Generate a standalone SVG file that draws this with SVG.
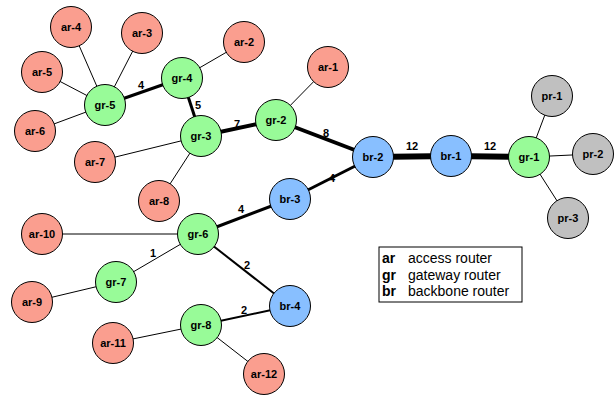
<svg xmlns="http://www.w3.org/2000/svg" width="616" height="398" viewBox="0 0 616 398">
  <style>
    .node circle { stroke: #000; stroke-width: 1; }
    .ar circle { fill: #fa9e8f; }
    .gr circle { fill: #98fb98; }
    .br circle { fill: #88bfff; }
    .pr circle { fill: #c0c0c0; }
    .node text { font-family: "Liberation Sans", Arial, sans-serif; font-size: 11px; font-weight: bold; text-anchor: middle; dominant-baseline: central; fill: #000; }
    .edge { stroke: #000; fill: none; }
    .w1 { stroke-width: 1; }
    .w2 { stroke-width: 2; }
    .w3 { stroke-width: 3; }
    .w4 { stroke-width: 4; }
    .w6 { stroke-width: 6; }
    .wl { font-family: "Liberation Sans", Arial, sans-serif; font-size: 11px; font-weight: bold; text-anchor: middle; fill: #000; }
    .legend { font-family: "Liberation Sans", Arial, sans-serif; font-size: 14px; fill: #000; }
    .legend .k { font-weight: bold; }
  </style>

  <!-- links -->
  <g id="connectors">
    <line class="edge w1" x1="105" y1="105" x2="71" y2="27"/>
    <line class="edge w1" x1="105" y1="105" x2="142" y2="33"/>
    <line class="edge w1" x1="105" y1="105" x2="42" y2="72"/>
    <line class="edge w1" x1="105" y1="105" x2="35" y2="131"/>
    <line class="edge w3" x1="105" y1="105" x2="182" y2="78"/>
    <line class="edge w1" x1="182" y1="78" x2="244" y2="42"/>
    <line class="edge w3" x1="182" y1="78" x2="201" y2="136"/>
    <line class="edge w1" x1="201" y1="136" x2="95" y2="162"/>
    <line class="edge w1" x1="201" y1="136" x2="159" y2="201"/>
    <line class="edge w4" x1="201" y1="136" x2="276" y2="120"/>
    <line class="edge w1" x1="276" y1="120" x2="328" y2="67"/>
    <line class="edge w4" x1="276" y1="120" x2="373" y2="157"/>
    <line class="edge w6" x1="373" y1="157" x2="451" y2="156"/>
    <line class="edge w6" x1="451" y1="156" x2="529" y2="157"/>
    <line class="edge w1" x1="529" y1="157" x2="552" y2="96"/>
    <line class="edge w1" x1="529" y1="157" x2="593" y2="154"/>
    <line class="edge w1" x1="529" y1="157" x2="568" y2="218"/>
    <line class="edge w3" x1="373" y1="157" x2="290" y2="199"/>
    <line class="edge w3" x1="290" y1="199" x2="198" y2="234"/>
    <line class="edge w1" x1="198" y1="234" x2="42" y2="234" stroke="#333"/>
    <line class="edge w1" x1="198" y1="234" x2="116" y2="282"/>
    <line class="edge w1" x1="116" y1="282" x2="32" y2="302"/>
    <line class="edge w2" x1="198" y1="234" x2="290" y2="306"/>
    <line class="edge w2" x1="290" y1="306" x2="201" y2="325"/>
    <line class="edge w1" x1="201" y1="325" x2="113" y2="343"/>
    <line class="edge w1" x1="201" y1="325" x2="264" y2="374"/>

    <!-- link weights -->
    <text class="wl" x="141" y="89">4</text>
    <text class="wl" x="198" y="109" font-weight="normal">5</text>
    <text class="wl" x="237" y="128">7</text>
    <text class="wl" x="326" y="137">8</text>
    <text class="wl" x="412" y="150">12</text>
    <text class="wl" x="490" y="150">12</text>
    <text class="wl" x="332" y="182">4</text>
    <text class="wl" x="241" y="213">4</text>
    <text class="wl" x="153" y="257">1</text>
    <text class="wl" x="247" y="269">2</text>
    <text class="wl" x="244" y="314">2</text>
  </g>

  <!-- access routers -->
  <g id="ar-1" class="node ar"><circle cx="328" cy="67" r="20.5"/><text x="328" y="67">ar-1</text></g>
  <g id="ar-2" class="node ar"><circle cx="244" cy="42" r="20.5"/><text x="244" y="42">ar-2</text></g>
  <g id="ar-3" class="node ar"><circle cx="142" cy="33" r="20.5"/><text x="142" y="33">ar-3</text></g>
  <g id="ar-4" class="node ar"><circle cx="71" cy="27" r="20.5"/><text x="71" y="27">ar-4</text></g>
  <g id="ar-5" class="node ar"><circle cx="42" cy="72" r="20.5"/><text x="42" y="72">ar-5</text></g>
  <g id="ar-6" class="node ar"><circle cx="35" cy="131" r="20.5"/><text x="35" y="131">ar-6</text></g>
  <g id="ar-7" class="node ar"><circle cx="95" cy="162" r="20.5"/><text x="95" y="162">ar-7</text></g>
  <g id="ar-8" class="node ar"><circle cx="159" cy="201" r="20.5"/><text x="159" y="201">ar-8</text></g>
  <g id="ar-9" class="node ar"><circle cx="32" cy="302" r="20.5"/><text x="32" y="302">ar-9</text></g>
  <g id="ar-10" class="node ar"><circle cx="42" cy="234" r="20.5"/><text x="42" y="234">ar-10</text></g>
  <g id="ar-11" class="node ar"><circle cx="113" cy="343" r="20.5"/><text x="113" y="343">ar-11</text></g>
  <g id="ar-12" class="node ar"><circle cx="264" cy="374" r="20.5"/><text x="264" y="374">ar-12</text></g>

  <!-- gateway routers -->
  <g id="gr-1" class="node gr"><circle cx="529" cy="157" r="20.5"/><text x="529" y="157">gr-1</text></g>
  <g id="gr-2" class="node gr"><circle cx="276" cy="120" r="20.5"/><text x="276" y="120">gr-2</text></g>
  <g id="gr-3" class="node gr"><circle cx="201" cy="136" r="20.5"/><text x="201" y="136">gr-3</text></g>
  <g id="gr-4" class="node gr"><circle cx="182" cy="78" r="20.5"/><text x="182" y="78">gr-4</text></g>
  <g id="gr-5" class="node gr"><circle cx="105" cy="105" r="20.5"/><text x="105" y="105">gr-5</text></g>
  <g id="gr-6" class="node gr"><circle cx="198" cy="234" r="20.5"/><text x="198" y="234">gr-6</text></g>
  <g id="gr-7" class="node gr"><circle cx="116" cy="282" r="20.5"/><text x="116" y="282">gr-7</text></g>
  <g id="gr-8" class="node gr"><circle cx="201" cy="325" r="20.5"/><text x="201" y="325">gr-8</text></g>

  <!-- backbone routers -->
  <g id="br-1" class="node br"><circle cx="451" cy="156" r="20.5"/><text x="451" y="156">br-1</text></g>
  <g id="br-2" class="node br"><circle cx="373" cy="157" r="20.5"/><text x="373" y="157">br-2</text></g>
  <g id="br-3" class="node br"><circle cx="290" cy="199" r="20.5"/><text x="290" y="199">br-3</text></g>
  <g id="br-4" class="node br"><circle cx="290" cy="306" r="20.5"/><text x="290" y="306">br-4</text></g>

  <!-- provider routers -->
  <g id="pr-1" class="node pr"><circle cx="552" cy="96" r="20.5"/><text x="552" y="96">pr-1</text></g>
  <g id="pr-2" class="node pr"><circle cx="593" cy="154" r="20.5"/><text x="593" y="154">pr-2</text></g>
  <g id="pr-3" class="node pr"><circle cx="568" cy="218" r="20.5"/><text x="568" y="218">pr-3</text></g>

  <!-- key -->
  <g id="legend" class="legend">
    <rect x="379" y="247" width="143" height="55" fill="#fff" stroke="#000" stroke-width="1"/>
    <text class="k" x="382" y="263">ar</text><text x="408" y="263">access router</text>
    <text class="k" x="382" y="280">gr</text><text x="408" y="280">gateway router</text>
    <text class="k" x="382" y="296">br</text><text x="408" y="296">backbone router</text>
  </g>
</svg>
